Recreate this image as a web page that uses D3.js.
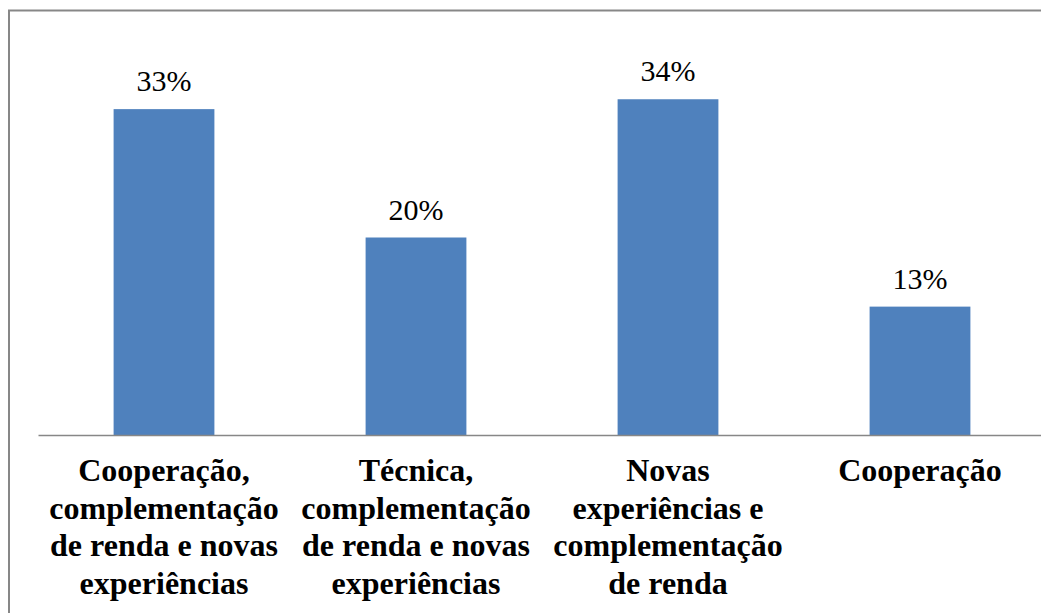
<!DOCTYPE html>
<html>
<head>
<meta charset="utf-8">
<script src="https://cdn.jsdelivr.net/npm/d3@7"></script>
</head>
<body style="margin:0">
<script>
'use strict'
// data
const categories = ['c1', 'c2', 'c3', 'c4']
const labelLines = [
  ['Cooperação,', 'complementação', 'de renda e novas', 'experiências'],
  ['Técnica,', 'complementação', 'de renda e novas', 'experiências'],
  ['Novas', 'experiências e', 'complementação', 'de renda'],
  ['Cooperação']
]
const values = [33, 20, 34, 13]

const width = 1041
const height = 613
const x0 = 38      // left end of the category axis
const x1 = 1046    // runs past the right edge, like the original crop
const yBase = 435
const yTop = 40
const serif = "'Liberation Serif'"

const svg = d3.select('body').append('svg')
  .attr('width', width)
  .attr('height', height)
  .style('display', 'block')

// outer frame (cut off on the right and bottom)
svg.append('rect')
  .attr('x', 9)
  .attr('y', 10.5)
  .attr('width', width + 20)
  .attr('height', height + 20)
  .attr('fill', 'none')
  .attr('stroke', '#878787')
  .attr('stroke-width', 2)

const x = d3.scaleBand()
  .domain(categories)
  .range([x0, x1])
  .paddingInner(0.6)
  .paddingOuter(0.3)

const y = d3.scaleLinear()
  .domain([0, 40])
  .range([yBase, yTop])

svg.selectAll('.bar')
  .data(values)
  .enter()
  .append('rect')
  .attr('class', 'bar')
  .attr('x', (d, i) => x(categories[i]))
  .attr('y', d => y(d))
  .attr('width', x.bandwidth())
  .attr('height', d => y(0) - y(d))
  .attr('fill', '#4F81BD')

// category axis
const xAxis = d3.axisBottom(x).tickSize(0).tickFormat('')
const gx = svg.append('g')
  .attr('transform', 'translate(0,' + yBase + ')')
  .call(xAxis)
gx.select('.domain')
  .attr('stroke', '#878787')
  .attr('stroke-width', 1.5)

// value labels
svg.selectAll('.val')
  .data(values)
  .enter()
  .append('text')
  .attr('class', 'val')
  .attr('x', (d, i) => x(categories[i]) + x.bandwidth() / 2)
  .attr('y', d => y(d) - 18)
  .attr('text-anchor', 'middle')
  .style('font-family', serif)
  .style('font-size', '30px')
  .attr('fill', '#000')
  .text(d => d + '%')

// category labels, wrapped like the original
const lab = svg.selectAll('.cat')
  .data(labelLines)
  .enter()
  .append('text')
  .attr('class', 'cat')
  .attr('text-anchor', 'middle')
  .style('font-family', serif)
  .style('font-size', '32px')
  .style('font-weight', 'bold')
  .attr('fill', '#000')

lab.each(function (lines, i) {
  const cx = x(categories[i]) + x.bandwidth() / 2
  d3.select(this).selectAll('tspan')
    .data(lines)
    .enter()
    .append('tspan')
    .attr('x', cx)
    .attr('y', (d, j) => 481 + j * 37.7)
    .text(d => d)
})
</script>
</body>
</html>
